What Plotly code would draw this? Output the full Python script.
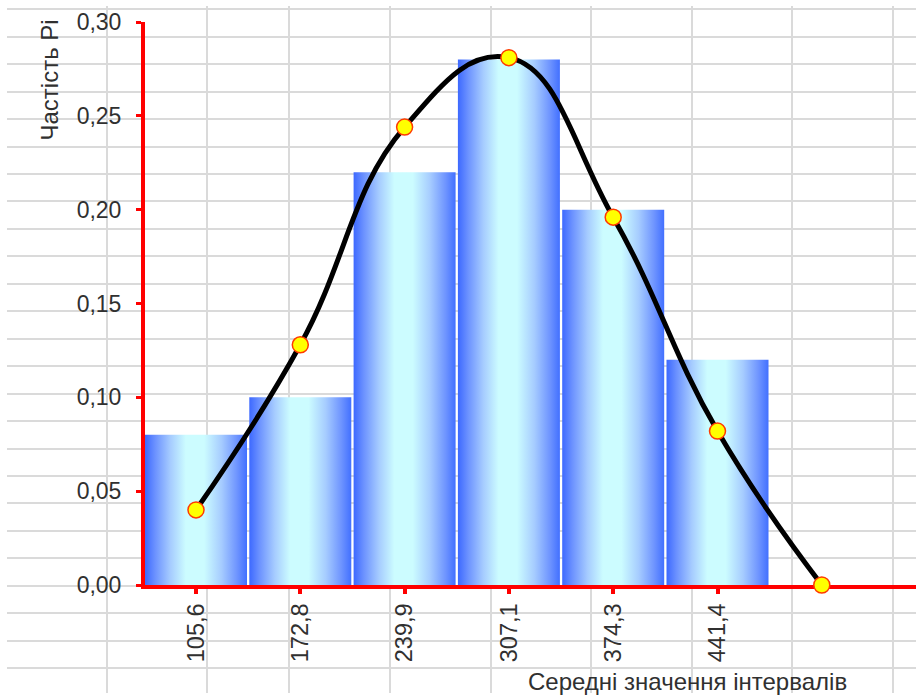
import plotly.graph_objects as go

# Interval midpoints (category labels) and relative frequencies
midpoints = ["105,6", "172,8", "239,9", "307,1", "374,3", "441,4"]
frequencies = [0.08, 0.10, 0.22, 0.28, 0.20, 0.12]

# Theoretical (smoothed) frequencies, one extra point closing the curve at zero
curve_values = [0.040, 0.128, 0.244, 0.281, 0.196, 0.082, 0.000]

# Worksheet cell borders drawn behind the chart (page pixel units)
sheet_columns = [107, 207, 289, 390, 491, 591, 692, 792, 893]
sheet_row_start = 9.3
sheet_row_height = 27.45

W, H = 916, 698
bar_width = 0.978
text_color = "#303030"
font_family = "Liberation Sans, Arial, sans-serif"

bar_gradient = [
    [0.00, "#3d69ff"],
    [0.10, "#6c92ff"],
    [0.25, "#a6ccff"],
    [0.40, "#ccfcff"],
    [0.58, "#ccfcff"],
    [0.75, "#a6ccff"],
    [0.90, "#6f95ff"],
    [1.00, "#4270ff"],
]

fig = go.Figure()

# Empty trace that keeps the worksheet-grid subplot alive
fig.add_trace(go.Scatter(x=[], y=[], xaxis="x", yaxis="y", showlegend=False, hoverinfo="skip"))

# Histogram bars, each a filled rectangle with a horizontal gradient
for i, v in enumerate(frequencies):
    x0, x1 = i - bar_width / 2, i + bar_width / 2
    fig.add_trace(go.Scatter(
        x=[x0, x0, x1, x1, x0],
        y=[0, v, v, 0, 0],
        mode="lines",
        fill="toself",
        fillgradient=dict(type="horizontal", colorscale=bar_gradient),
        line=dict(width=0),
        xaxis="x2", yaxis="y2",
        showlegend=False, hoverinfo="skip",
    ))

# Smoothed frequency curve with point markers
fig.add_trace(go.Scatter(
    x=list(range(len(curve_values))),
    y=curve_values,
    mode="lines+markers",
    line=dict(color="black", width=5, shape="spline", smoothing=1.25),
    marker=dict(size=16, color="#ffff00", line=dict(color="#ff3a00", width=1.5)),
    cliponaxis=False,
    xaxis="x2", yaxis="y2",
    showlegend=False,
))

x_left_px, y_bottom_px, y_top_px = 145, 585, 22
first_center_px, step_px = 196, 104.3

fig.update_layout(
    template="none",
    width=W, height=H,
    margin=dict(l=0, r=0, t=0, b=0, pad=0),
    paper_bgcolor="white",
    plot_bgcolor="rgba(0,0,0,0)",
    separators=", ",
    font=dict(family=font_family, color=text_color),
    # worksheet grid layer
    xaxis=dict(
        domain=[7 / W, 1], range=[7, W], automargin=False,
        tickmode="array", tickvals=sheet_columns,
        showgrid=True, gridcolor="#dadada", gridwidth=2,
        showticklabels=False, ticks="", zeroline=False, showline=False,
        fixedrange=True,
    ),
    yaxis=dict(
        domain=[(H - 693) / H, (H - 6) / H], range=[693, 6], automargin=False,
        tickmode="linear", tick0=sheet_row_start, dtick=sheet_row_height,
        showgrid=True, gridcolor="#dadada", gridwidth=2,
        showticklabels=False, ticks="", zeroline=False, showline=False,
        fixedrange=True,
    ),
    # chart axes
    xaxis2=dict(
        domain=[x_left_px / W, 1],
        range=[(x_left_px - first_center_px) / step_px, (W - first_center_px) / step_px],
        anchor="y2", automargin=False,
        tickmode="array", tickvals=list(range(len(midpoints))), ticktext=midpoints,
        tickangle=-90,
        tickfont=dict(size=23.5, color=text_color, family=font_family),
        ticks="outside", ticklen=5, tickwidth=4, tickcolor="red",
        showline=True, linecolor="red", linewidth=4,
        showgrid=False, zeroline=False,
        layer="below traces",
    ),
    yaxis2=dict(
        domain=[(H - y_bottom_px) / H, (H - y_top_px) / H],
        range=[0, 0.30],
        anchor="x2", automargin=False,
        tickmode="linear", tick0=0, dtick=0.05, tickformat=".2f",
        tickfont=dict(size=23, color=text_color, family=font_family),
        ticks="outside", ticklen=5, tickwidth=3, tickcolor="red",
        ticklabelstandoff=10,
        showline=True, linecolor="red", linewidth=4,
        showgrid=False, zeroline=False,
        layer="below traces",
    ),
    annotations=[
        dict(
            text="Частість Pi", textangle=-90,
            xref="paper", yref="paper", x=49 / W, y=(H - 18) / H,
            xanchor="center", yanchor="top", showarrow=False,
            font=dict(size=24, color=text_color, family=font_family),
        ),
        dict(
            text="Середні значення інтервалів",
            xref="paper", yref="paper", x=849 / W, y=(H - 681) / H,
            xanchor="right", yanchor="middle", showarrow=False,
            font=dict(size=24, color=text_color, family=font_family),
        ),
    ],
)

fig.write_html("out.html")
